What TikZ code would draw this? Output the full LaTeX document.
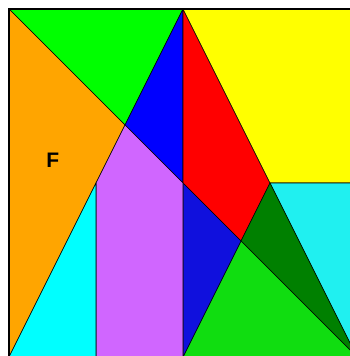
\documentclass[tikz,border=0pt]{standalone}
\usepackage{fontspec}
\setmainfont{Liberation Sans}
\definecolor{cGreen}{RGB}{0,255,0}
\definecolor{cOrange}{RGB}{255,165,0}
\definecolor{cBlue}{RGB}{0,0,255}
\definecolor{cRed}{RGB}{255,0,0}
\definecolor{cYellow}{RGB}{255,255,0}
\definecolor{cCyanR}{RGB}{32,240,240}
\definecolor{cDarkGreen}{RGB}{0,128,0}
\definecolor{cGreenB}{RGB}{16,221,16}
\definecolor{cBlueB}{RGB}{16,16,221}
\definecolor{cPurple}{RGB}{208,102,255}
\definecolor{cCyanL}{RGB}{0,255,255}
\begin{document}
\begin{tikzpicture}[x=43.5pt,y=-43.5pt,
  piece/.style={draw=black, line width=0.6pt, line join=round},
  border/.style={draw=black, line width=1.6pt}]
\useasboundingbox (-9pt,9pt) rectangle (341pt,-347pt);
\clip (-9pt,9pt) rectangle (341pt,-347pt);
\coordinate (A) at (0,0);
\coordinate (T) at (4,0);
\coordinate (B) at (8,0);
\coordinate (E) at (8,4);
\coordinate (D) at (8,8);
\coordinate (M) at (4,8);
\coordinate (L) at (2,8);
\coordinate (G) at (0,8);
\coordinate (P) at (8/3,8/3);
\coordinate (C) at (4,4);
\coordinate (Q) at (6,4);
\coordinate (R) at (16/3,16/3);
\coordinate (V) at (2,4);
\filldraw[piece, fill=cGreen] (A) -- (T) -- (P) -- cycle;
\filldraw[piece, fill=cOrange] (A) -- (P) -- (G) -- cycle;
\filldraw[piece, fill=cBlue] (T) -- (C) -- (P) -- cycle;
\filldraw[piece, fill=cRed] (T) -- (Q) -- (R) -- (C) -- cycle;
\filldraw[piece, fill=cYellow] (T) -- (B) -- (E) -- (Q) -- cycle;
\filldraw[piece, fill=cCyanR] (Q) -- (E) -- (D) -- cycle;
\filldraw[piece, fill=cDarkGreen] (Q) -- (D) -- (R) -- cycle;
\filldraw[piece, fill=cGreenB] (R) -- (D) -- (M) -- cycle;
\filldraw[piece, fill=cBlueB] (C) -- (R) -- (M) -- cycle;
\filldraw[piece, fill=cPurple] (P) -- (C) -- (M) -- (L) -- (V) -- cycle;
\filldraw[piece, fill=cCyanL] (G) -- (V) -- (L) -- cycle;
\draw[border] (A) rectangle (D);
\node[font=\fontsize{21}{21}\selectfont\bfseries, inner sep=0pt] (F) at (1.007,3.483) {F};
\end{tikzpicture}
\end{document}
